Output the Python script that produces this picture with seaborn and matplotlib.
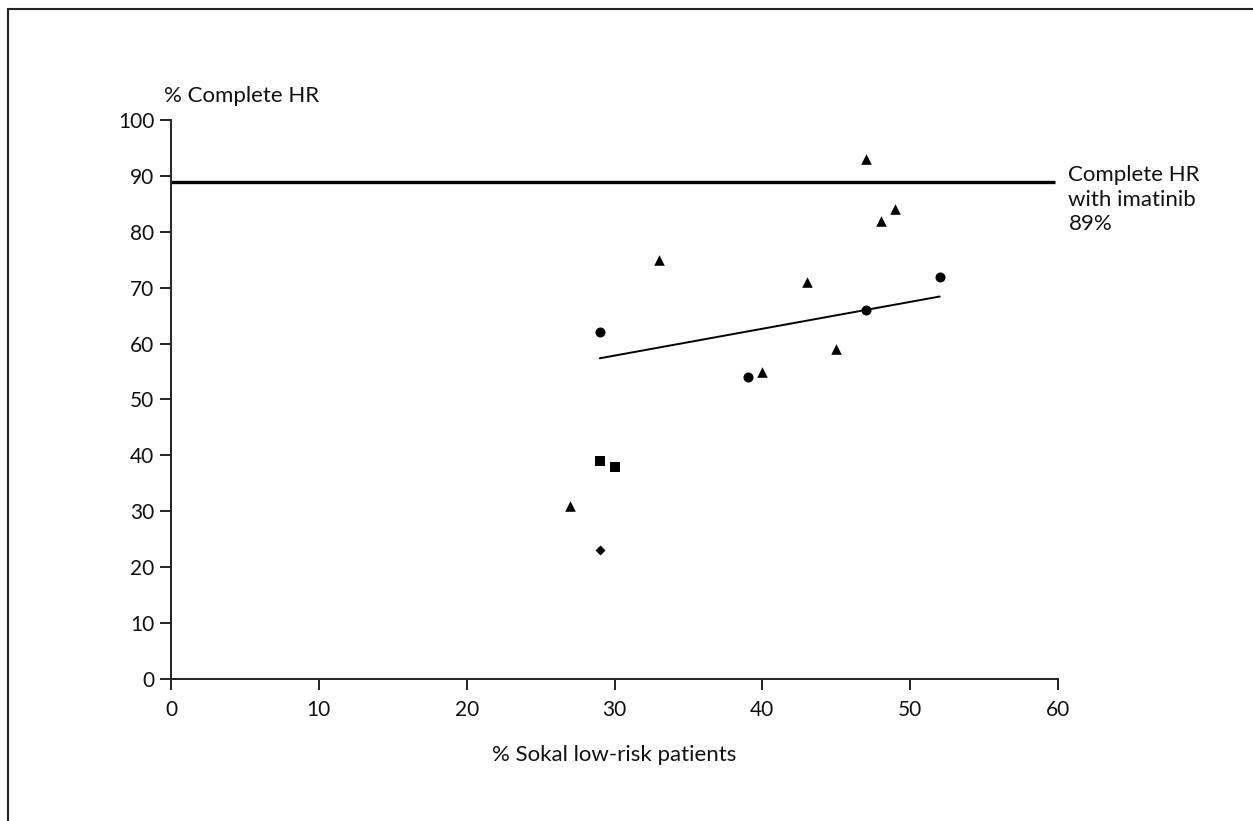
import matplotlib
matplotlib.use("Agg")
import matplotlib.pyplot as plt
from matplotlib.lines import Line2D
import numpy as np
import pandas as pd
import seaborn as sns

# Study results: % Sokal low-risk patients vs % complete haematological response
tri_x = [27, 33, 40, 43, 45, 47, 48, 49]
tri_y = [31, 75, 55, 71, 59, 93, 82, 84]
circ_x = [29, 39, 47, 52]
circ_y = [62, 54, 66, 72]
sq_x = [29, 30]
sq_y = [39, 38]
dia_x = [29]
dia_y = [23]

imatinib_chr = 89
x_ticks = [0, 10, 20, 30, 40, 50, 60]
y_ticks = [0, 10, 20, 30, 40, 50, 60, 70, 80, 90, 100]

sns.set_theme(style="ticks")
plt.rcParams["font.family"] = ["Lato", "DejaVu Sans"]

fig = plt.figure(figsize=(12.53, 8.21), dpi=100)
ax = fig.add_axes([0.1365, 0.1730, 0.7079, 0.6808])

groups = [
    ("triangle", tri_x, tri_y, "^", 58),
    ("circle", circ_x, circ_y, "o", 52),
    ("square", sq_x, sq_y, "s", 60),
    ("diamond", dia_x, dia_y, "D", 26),
]
for name, gx, gy, mk, size in groups:
    df = pd.DataFrame({"x": gx, "y": gy})
    sns.scatterplot(data=df, x="x", y="y", marker=mk, s=size, color="black",
                    edgecolor="black", linewidth=0, ax=ax, zorder=3)

# Least-squares line through the circle studies
circ_df = pd.DataFrame({"x": circ_x, "y": circ_y})
sns.regplot(data=circ_df, x="x", y="y", scatter=False, ci=None, truncate=True,
            color="black", line_kws={"linewidth": 1.4}, ax=ax)

# Reference level reached with imatinib
ax.plot([0, 59.8], [imatinib_chr, imatinib_chr], color="black", linewidth=2.4,
        solid_capstyle="butt", zorder=2)
ax.text(60.7, imatinib_chr + 3.0, "Complete HR\nwith imatinib\n89%",
        fontsize=16, va="top", ha="left", linespacing=1.3, color="#111111")

ax.set_xlim(0, 60)
ax.set_ylim(0, 100)
ax.set_xticks(x_ticks)
ax.set_yticks(y_ticks)
ax.set_xticklabels([str(v) for v in x_ticks], fontsize=15, color="#111111")
ax.set_yticklabels([str(v) for v in y_ticks], fontsize=15, color="#111111")
ax.tick_params(axis="both", direction="out", length=8, width=1.4, color="#222222", pad=4)
ax.tick_params(axis="x", pad=7)
sns.despine(ax=ax)
for side in ("left", "bottom"):
    ax.spines[side].set_linewidth(1.4)
    ax.spines[side].set_color("#222222")

ax.set_xlabel("% Sokal low-risk patients", fontsize=16, color="#111111", labelpad=18)
ax.set_ylabel("")
ax.text(-0.5, 103.2, "% Complete HR", fontsize=16, ha="left", va="baseline",
        color="#111111", clip_on=False)

# Frame along the top and left edges of the figure
W, H = 1253, 821
fig.add_artist(Line2D([8 / W, 8 / W], [0, 1 - 9 / H], transform=fig.transFigure,
                      color="#222222", linewidth=1.5))
fig.add_artist(Line2D([8 / W, 1], [1 - 9 / H, 1 - 9 / H], transform=fig.transFigure,
                      color="#222222", linewidth=1.5))

fig.savefig("out.png", dpi=100, facecolor="white")
